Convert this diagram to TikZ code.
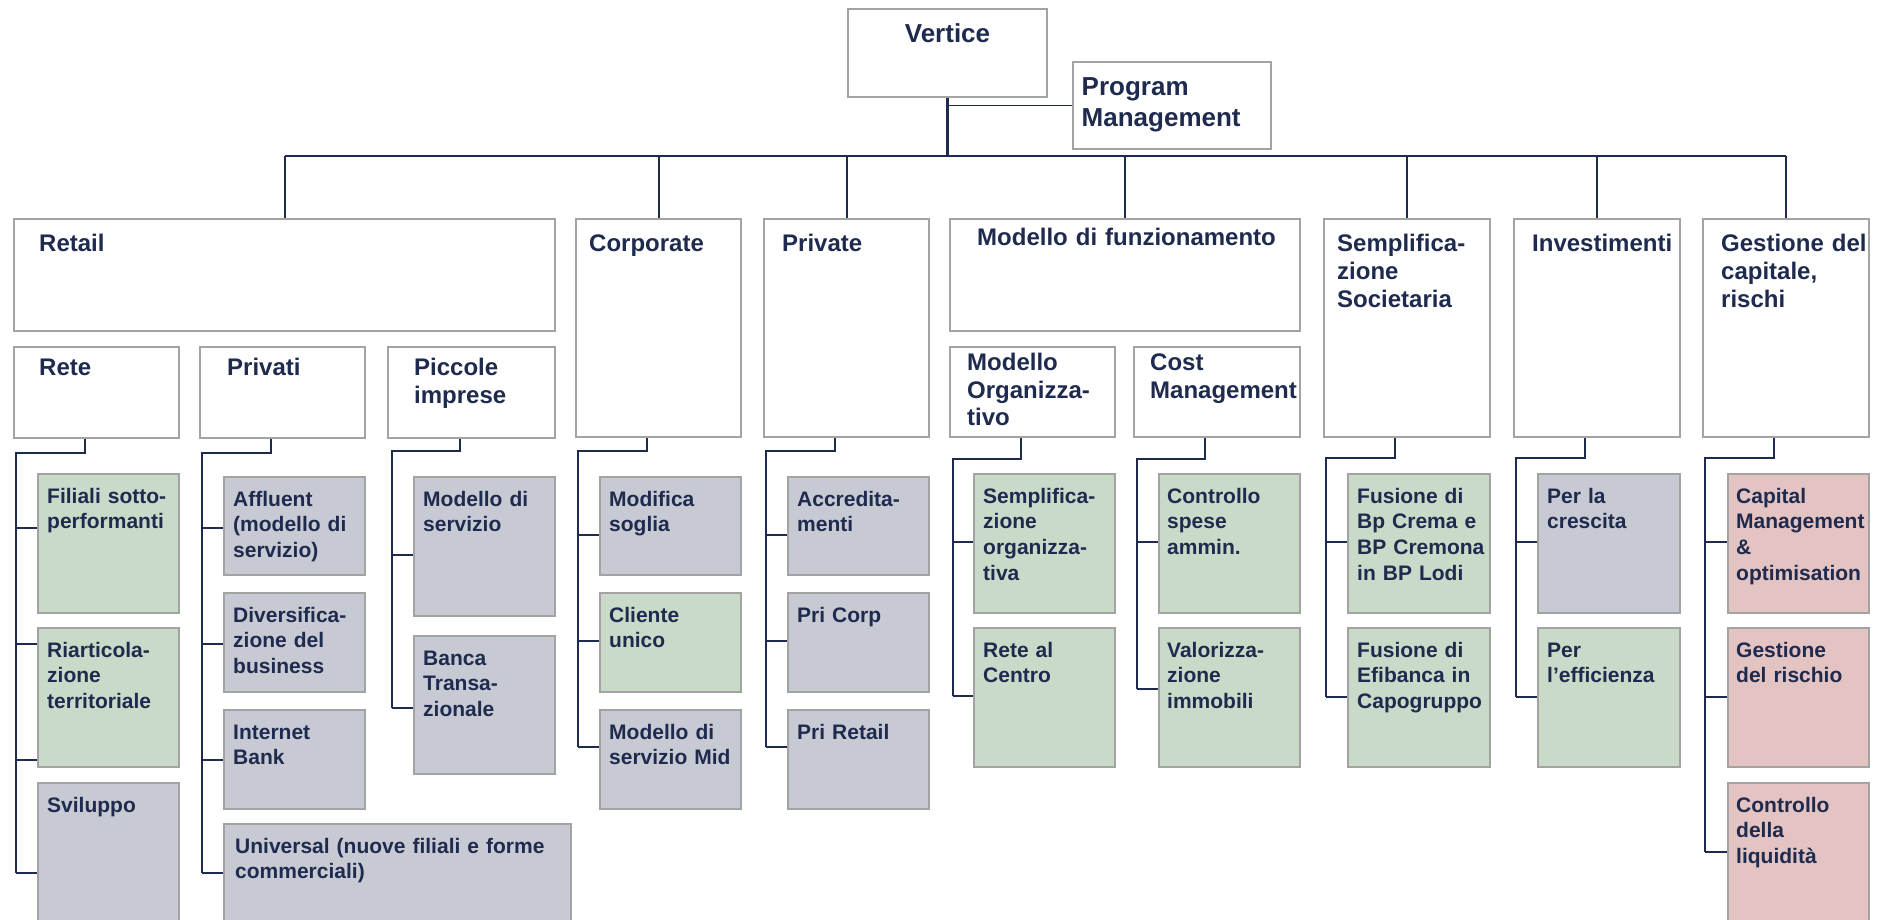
\documentclass[tikz,border=0pt]{standalone}
\usepackage{fontspec}
\setmainfont{Liberation Sans}
\usetikzlibrary{calc}
\definecolor{navy}{HTML}{1F2A4F}
\definecolor{edgegray}{HTML}{A3A3A3}
\definecolor{fgreen}{HTML}{C9DBC8}
\definecolor{fgray}{HTML}{C8CAD3}
\definecolor{fpink}{HTML}{E4C4C2}
\newcommand\mkbox[6]{%
  \pgfmathsetmacro\bxw{#5-#3}\pgfmathsetmacro\bxh{#6-#4}%
  \node[#1, minimum width=\bxw pt, minimum height=\bxh pt] (#2) at (#3,#4) {};}
\newcommand\mklab[5]{\node[#1] at ($(#2.north west)+(#3,#4)$) {#5};}
\newcommand\mkgroup[4]{\draw[conn] ($(#1.south)+(-12,0)$) |- (#3,#2) -- (#3,#4);}
\newcommand\mkbranch[3]{\draw[conn] (#1,#2) -- (#3.west |- #1,#2);}
\begin{document}
\begin{tikzpicture}[x=1pt,y=-1pt,
  box/.style={draw=edgegray, line width=2pt, inner sep=0pt, anchor=north west},
  wbox/.style={box, fill=white},
  gbox/.style={box, fill=fgreen},
  sbox/.style={box, fill=fgray},
  pbox/.style={box, fill=fpink},
  lab/.style={text=navy, align=left, inner sep=0pt, anchor=base west, text width=400pt},
  leaf/.style={lab, font=\fontsize{21}{25.7}\selectfont\bfseries},
  lvl/.style={lab, font=\fontsize{24}{28}\selectfont\bfseries},
  sublvl/.style={lab, font=\fontsize{24}{27.5}\selectfont\bfseries},
  big/.style={lab, font=\fontsize{26}{31}\selectfont\bfseries},
  conn/.style={draw=navy, line width=2pt},
  trunk/.style={draw=navy, line width=2.6pt},
  side/.style={draw=navy, line width=1.6pt}]
\useasboundingbox (0,0) rectangle (1883,920);
\fill[white] (0,0) rectangle (1883,920);

% top
\mkbox{wbox}{vert}{847}{8}{1046}{96}
\mkbox{wbox}{pm}{1072}{61}{1270}{148}
\node[text=navy, inner sep=0pt, anchor=base, font=\fontsize{26}{31}\selectfont\bfseries] at ($(vert.north)+(0,34.7)$) {Vertice};
\mklab{big}{pm}{9.5}{34.4}{Program\\Management}

% level 1
\mkbox{wbox}{ret}{13}{218}{554}{330}
\mkbox{wbox}{corp}{575}{218}{740}{436}
\mkbox{wbox}{priv}{763}{218}{928}{436}
\mkbox{wbox}{mf}{949}{218}{1299}{330}
\mkbox{wbox}{ss}{1323}{218}{1489}{436}
\mkbox{wbox}{inv}{1513}{218}{1679}{436}
\mkbox{wbox}{gest}{1702}{218}{1868}{436}
\mklab{lvl}{ret}{26}{34}{Retail}
\mklab{lvl}{corp}{14}{34}{Corporate}
\mklab{lvl}{priv}{19}{34}{Private}
\mklab{lvl}{mf}{28}{27.3}{Modello di funzionamento}
\mklab{lvl}{ss}{14}{34}{Semplifica-\\zione\\Societaria}
\mklab{lvl}{inv}{19}{34}{Investimenti}
\mklab{lvl}{gest}{19}{34}{Gestione del\\capitale,\\rischi}

% level 2
\mkbox{wbox}{rete}{13}{346}{178}{437}
\mkbox{wbox}{prv}{199}{346}{364}{437}
\mkbox{wbox}{pic}{387}{346}{554}{437}
\mkbox{wbox}{org}{949}{346}{1114}{436}
\mkbox{wbox}{cost}{1133}{346}{1299}{436}
\mklab{sublvl}{rete}{26}{29.6}{Rete}
\mklab{sublvl}{prv}{28}{29.6}{Privati}
\mklab{sublvl}{pic}{27}{29.6}{Piccole\\imprese}
\mklab{sublvl}{org}{18}{24.6}{Modello\\Organizza-\\tivo}
\mklab{sublvl}{cost}{17}{24.6}{Cost\\Management}

% leaves
\mkbox{gbox}{fil}{37}{473}{178}{612}
\mkbox{gbox}{riart}{37}{627}{178}{766}
\mkbox{sbox}{svil}{37}{782}{178}{950}
\mkbox{sbox}{aff}{223}{476}{364}{574}
\mkbox{sbox}{div}{223}{592}{364}{691}
\mkbox{sbox}{inet}{223}{709}{364}{808}
\mkbox{sbox}{univ}{223}{823}{570}{950}
\mkbox{sbox}{mds}{413}{476}{554}{615}
\mkbox{sbox}{banca}{413}{635}{554}{773}
\mkbox{sbox}{mod}{599}{476}{740}{574}
\mkbox{gbox}{cli}{599}{592}{740}{691}
\mkbox{sbox}{mid}{599}{709}{740}{808}
\mkbox{sbox}{acc}{787}{476}{928}{574}
\mkbox{sbox}{pcorp}{787}{592}{928}{691}
\mkbox{sbox}{pret}{787}{709}{928}{808}
\mkbox{gbox}{sorg}{973}{473}{1114}{612}
\mkbox{gbox}{rac}{973}{627}{1114}{766}
\mkbox{gbox}{csa}{1158}{473}{1299}{612}
\mkbox{gbox}{val}{1158}{627}{1299}{766}
\mkbox{gbox}{fcr}{1347}{473}{1489}{612}
\mkbox{gbox}{fefi}{1347}{627}{1489}{766}
\mkbox{sbox}{cresc}{1537}{473}{1679}{612}
\mkbox{gbox}{effic}{1537}{627}{1679}{766}
\mkbox{pbox}{capm}{1727}{473}{1868}{612}
\mkbox{pbox}{grisk}{1727}{627}{1868}{766}
\mkbox{pbox}{liq}{1727}{782}{1868}{950}

\mklab{leaf}{fil}{10}{30}{Filiali sotto-\\performanti}
\mklab{leaf}{riart}{10}{30}{Riarticola-\\zione\\territoriale}
\mklab{leaf}{svil}{10}{30}{Sviluppo}
\mklab{leaf}{aff}{10}{30}{Affluent\\(modello di\\servizio)}
\mklab{leaf}{div}{10}{30}{Diversifica-\\zione del\\business}
\mklab{leaf}{inet}{10}{30}{Internet\\Bank}
\mklab{leaf}{univ}{12}{30}{Universal (nuove filiali e forme\\commerciali)}
\mklab{leaf}{mds}{10}{30}{Modello di\\servizio}
\mklab{leaf}{banca}{10}{30}{Banca\\Transa-\\zionale}
\mklab{leaf}{mod}{10}{30}{Modifica\\soglia}
\mklab{leaf}{cli}{10}{30}{Cliente\\unico}
\mklab{leaf}{mid}{10}{30}{Modello di\\servizio Mid}
\mklab{leaf}{acc}{10}{30}{Accredita-\\menti}
\mklab{leaf}{pcorp}{10}{30}{Pri Corp}
\mklab{leaf}{pret}{10}{30}{Pri Retail}
\mklab{leaf}{sorg}{10}{30}{Semplifica-\\zione\\organizza-\\tiva}
\mklab{leaf}{rac}{10}{30}{Rete al\\Centro}
\mklab{leaf}{csa}{9}{30}{Controllo\\spese\\ammin.}
\mklab{leaf}{val}{9}{30}{Valorizza-\\zione\\immobili}
\mklab{leaf}{fcr}{10}{30}{Fusione di\\Bp Crema e\\BP Cremona\\in BP Lodi}
\mklab{leaf}{fefi}{10}{30}{Fusione di\\Efibanca in\\Capogruppo}
\mklab{leaf}{cresc}{10}{30}{Per la\\crescita}
\mklab{leaf}{effic}{10}{30}{Per\\l’efficienza}
\mklab{leaf}{capm}{9}{30}{Capital\\Management\\\&\\optimisation}
\mklab{leaf}{grisk}{9}{30}{Gestione\\del rischio}
\mklab{leaf}{liq}{9}{30}{Controllo\\della\\liquidità}

% connectors top
\coordinate (busy) at (0,156);
\draw[trunk] (vert.south) -- (vert.south |- busy);
\draw[trunk] (ret.north |- busy) -- (gest.north |- busy);
\foreach \n in {ret,corp,priv,mf,ss,inv,gest}{\draw[conn] (\n.north |- busy) -- (\n.north);}
\draw[side] (vert.south |- pm.west) -- (pm.west);

% groups
\mkgroup{rete}{453}{15.7}{873}
\mkbranch{15.7}{528}{fil}
\mkbranch{15.7}{644}{riart}
\mkbranch{15.7}{760}{riart}
\mkbranch{15.7}{873}{svil}

\mkgroup{prv}{453}{202}{873}
\mkbranch{202}{528}{aff}
\mkbranch{202}{644}{div}
\mkbranch{202}{760}{inet}
\mkbranch{202}{873}{univ}

\mkgroup{pic}{451}{392}{708}
\mkbranch{392}{555}{mds}
\mkbranch{392}{708}{banca}

\mkgroup{corp}{451}{578}{747}
\mkbranch{578}{535}{mod}
\mkbranch{578}{641}{cli}
\mkbranch{578}{747}{mid}

\mkgroup{priv}{451}{766}{747}
\mkbranch{766}{535}{acc}
\mkbranch{766}{641}{pcorp}
\mkbranch{766}{747}{pret}

\mkgroup{org}{459}{953}{696}
\mkbranch{953}{542}{sorg}
\mkbranch{953}{696}{rac}

\mkgroup{cost}{459}{1137}{689}
\mkbranch{1137}{542}{csa}
\mkbranch{1137}{689}{val}

\mkgroup{ss}{458}{1326}{697}
\mkbranch{1326}{542}{fcr}
\mkbranch{1326}{697}{fefi}

\mkgroup{inv}{458}{1516}{697}
\mkbranch{1516}{542}{cresc}
\mkbranch{1516}{697}{effic}

\mkgroup{gest}{458}{1705}{852}
\mkbranch{1705}{542}{capm}
\mkbranch{1705}{697}{grisk}
\mkbranch{1705}{852}{liq}
\end{tikzpicture}
\end{document}
